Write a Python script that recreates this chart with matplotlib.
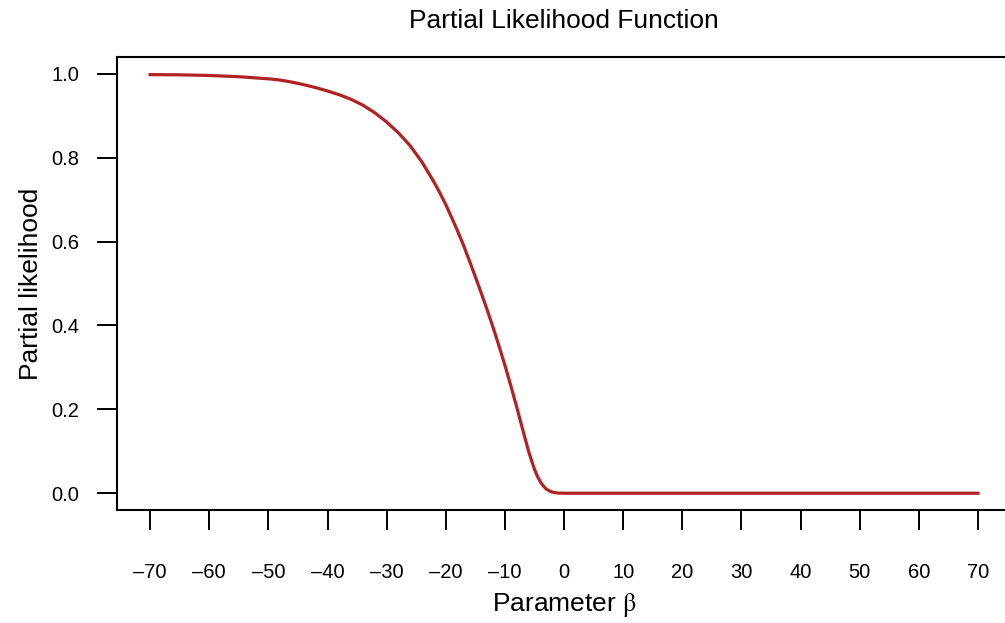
import matplotlib
matplotlib.use("Agg")
import matplotlib.pyplot as plt

# values
beta = [-70, -65, -60, -55, -50, -48, -46, -44, -42, -40, -38, -36, -34,
        -32, -30, -28, -26, -24, -22, -21, -20, -19, -18, -17, -16, -15,
        -14, -13, -12, -11, -10, -9, -8, -7, -6, -5.5, -5, -4.5, -4, -3.5,
        -3, -2.5, -2, -1.5, -1, 0, 10, 20, 30, 40, 50, 60, 70]
likelihood = [0.998, 0.9975, 0.996, 0.993, 0.988, 0.985, 0.980, 0.974,
              0.967, 0.959, 0.950, 0.939, 0.925, 0.907, 0.885, 0.859,
              0.828, 0.789, 0.742, 0.716, 0.688, 0.657, 0.625, 0.591,
              0.554, 0.516, 0.477, 0.437, 0.395, 0.351, 0.305, 0.256,
              0.205, 0.152, 0.100, 0.078, 0.057, 0.040, 0.027, 0.017,
              0.010, 0.0055, 0.0028, 0.0012, 0.0004, 0.0,
              0.0, 0.0, 0.0, 0.0, 0.0, 0.0, 0.0]
x_ticks = list(range(-70, 71, 10))
y_ticks = [0.0, 0.2, 0.4, 0.6, 0.8, 1.0]

plt.rcParams['font.family'] = ['Liberation Sans', 'DejaVu Sans']
plt.rcParams['mathtext.fontset'] = 'stix'

fig = plt.figure(figsize=(10.05, 6.23), dpi=100)
# right edge of the box runs past the image border, as in the reference
ax = fig.add_axes([0.1164, 0.1814, 0.8897, 0.7271])

ax.plot(beta, likelihood, color='#B22222', linewidth=2.3,
        solid_joinstyle='round')

ax.set_xlim(-75.6, 75.6)
ax.set_ylim(-0.04, 1.04)
ax.set_xticks(x_ticks)
ax.set_xticklabels([str(t).replace('-', '\u2013') for t in x_ticks])
ax.set_yticks(y_ticks)
ax.set_yticklabels([f'{t:.1f}' for t in y_ticks])

for s in ax.spines.values():
    s.set_linewidth(1.5)
ax.tick_params(axis='both', direction='out', length=14.4, width=1.4,
               labelsize=14.5, color='black')
ax.tick_params(axis='x', pad=24)
ax.tick_params(axis='y', pad=13)

ax.set_title('Partial Likelihood Function', fontsize=19, pad=21)
ax.set_xlabel(r'Parameter $\mathrm{\beta}$', fontsize=19, labelpad=6)
ax.set_ylabel('Partial likelihood', fontsize=19, labelpad=6)

fig.savefig('out.png', dpi=100)
